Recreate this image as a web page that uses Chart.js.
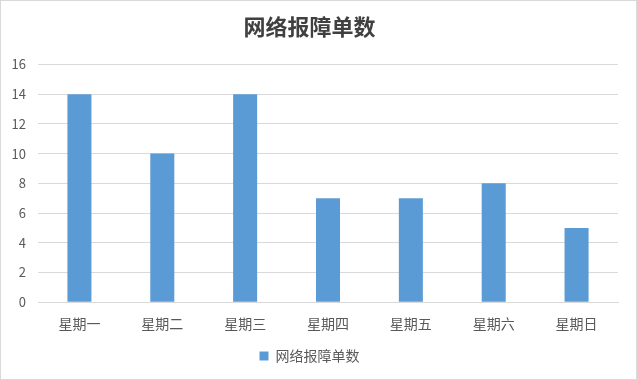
<!DOCTYPE html>
<html>
<head>
<meta charset="utf-8">
<script src="https://cdn.jsdelivr.net/npm/chart.js@4.4.1/dist/chart.umd.min.js"></script>
<style>
	html, body { margin: 0; padding: 0; background: #fff; }
	#wrap { width: 637px; height: 380px; box-sizing: border-box; border: 1px solid #d9d9d9; }
</style>
</head>
<body>
<div id="wrap"><canvas id="chart" width="635" height="378"></canvas></div>
<script>
	// chart data
	var chartTitle = '网络报障单数';
	var days = [ '星期一', '星期二', '星期三', '星期四', '星期五', '星期六', '星期日' ];
	var faultCounts = [ 14, 10, 14, 7, 7, 8, 5 ];
	var yMax = 16, yStep = 2;

	var fontFamily = '"Microsoft YaHei", "Noto Sans CJK SC", sans-serif';

	(function() {
		'use strict';
		var ctx = document.getElementById('chart');
		new Chart(ctx, {
			type : 'bar',
			data : {
				labels : days,
				datasets : [ {
					label : chartTitle,
					data : faultCounts,
					backgroundColor : '#5b9bd5',
					borderWidth : 0,
					categoryPercentage : 1.0,
					barPercentage : 0.29
				} ]
			},
			options : {
				responsive : false,
				animation : false,
				layout : {
					padding : { left : 0, right : 18, top : 12, bottom : 6 }
				},
				plugins : {
					title : {
						display : true,
						text : chartTitle,
						color : '#404040',
						font : { family : fontFamily, size : 22, weight : 'bold' },
						padding : { top : 0, bottom : 25 }
					},
					legend : {
						position : 'bottom',
						labels : {
							boxWidth : 9,
							boxHeight : 9,
							color : '#595959',
							font : { family : fontFamily, size : 14 },
							padding : 12
						}
					},
					tooltip : { enabled : false }
				},
				scales : {
					x : {
						grid : { display : false },
						border : { display : true, color : '#d9d9d9' },
						ticks : {
							color : '#595959',
							font : { family : fontFamily, size : 14 },
							padding : 5
						}
					},
					y : {
						min : 0,
						max : yMax,
						ticks : {
							stepSize : yStep,
							color : '#595959',
							font : { family : fontFamily, size : 13 },
							padding : 12
						},
						grid : { color : '#d9d9d9', drawTicks : false },
						border : { display : false },
						afterFit : function(scale) {
							scale.width = 37;
						}
					}
				}
			}
		});
	})();
</script>
</body>
</html>
